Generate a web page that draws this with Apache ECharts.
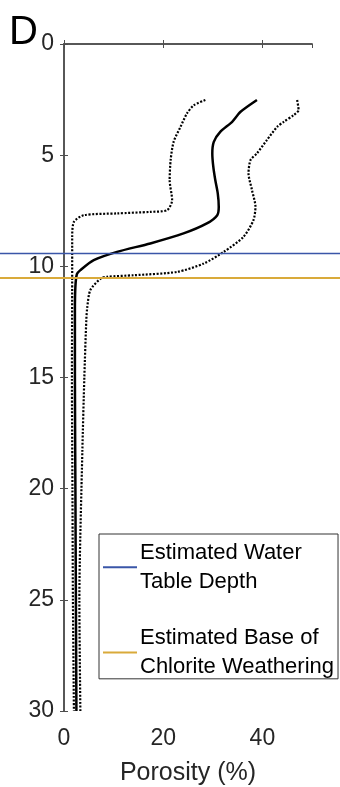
<!doctype html>
<html>
<head>
    <title>Porosity profile D</title>
    <script src="https://cdn.jsdelivr.net/npm/echarts@6/dist/echarts.min.js"></script>
</head>
<style>
    html, body { margin: 0; padding: 0; background: #fff; }
    #EChartParent { width: 340px; height: 787px; }
</style>
<body>
<div id="EChartParent"></div>
<script>
  // mean porosity curve (depth m, porosity %)
  var meanDepth = [2.52, 3.05, 3.5, 3.95, 4.4, 4.92, 5.52, 6.12, 6.72, 7.32, 7.7, 8.07, 8.52, 8.97, 9.35, 9.72, 10.17, 10.35, 10.9, 12, 15, 20, 25, 30];
  var meanPor   = [38.9, 35.6, 33.9, 31.5, 30.2, 29.9, 30.1, 30.5, 31.0, 31.2, 30.9, 28.8, 24.1, 17.4, 10.7, 6.0, 3.3, 2.6, 2.3, 2.2, 2.2, 2.3, 2.4, 2.5];
  // lower bound (dotted, left)
  var lowDepth = [2.52, 2.75, 3.12, 3.72, 4.4, 5.22, 6.12, 7.02, 7.47, 7.55, 7.62, 7.7, 8.0, 8.67, 10.5, 15, 20, 25, 30];
  var lowPor   = [28.5, 26.2, 24.8, 23.5, 22.1, 21.5, 21.3, 21.8, 20.8, 17.4, 10.7, 4.0, 2.0, 1.65, 1.65, 1.6, 1.7, 1.8, 2.0];
  // upper bound (dotted, right)
  var highDepth = [2.52, 2.97, 3.2, 3.5, 3.72, 4.32, 4.92, 5.22, 5.82, 6.57, 7.32, 7.92, 8.67, 9.35, 9.87, 10.25, 10.4, 10.47, 10.55, 11.07, 11.82, 12.4, 15, 18.3, 25, 30];
  var highPor   = [47.0, 47.3, 46.3, 44.3, 43.0, 40.9, 38.9, 37.6, 37.2, 37.9, 38.6, 38.2, 36.2, 32.2, 28.2, 22.8, 14.1, 8.7, 7.4, 5.3, 4.7, 4.5, 4.1, 3.7, 3.1, 3.3];

  var waterTable = 9.42;
  var chloriteBase = 10.52;
  var depthTicks = [0, 30, 5];   // min, max, interval
  var porTicks = [0, 50, 20];

  function pairs(xs, ys) {
    return ys.map(function (d, i) { return [xs[i], d]; });
  }

  var chart = echarts.init(document.getElementById('EChartParent'));
  var axisCol = '#4d4d4d';
  var txtCol = '#262626';
  var font = 'Liberation Sans, Arial, sans-serif';

  var option = {
    animation: false,
    textStyle: { fontFamily: font },
    title: {
      text: 'D', left: 9, top: -1, padding: 0,
      textStyle: { fontSize: 40, fontWeight: 'normal', color: '#000', fontFamily: font }
    },
    grid: [
      { left: 64, right: 28, top: 44, bottom: 76, outerBoundsMode: 'none', containLabel: false },
      { left: 0, right: 0, top: 44, bottom: 76, outerBoundsMode: 'none', containLabel: false }
    ],
    legend: {
      data: ['Estimated Water\nTable Depth', 'Estimated Base of\nChlorite Weathering'],
      orient: 'vertical', left: 99, top: 534,
      icon: 'rect', itemWidth: 34, itemHeight: 2, itemGap: 19,
      padding: [0, 4, -7, 4],
      backgroundColor: '#fff', borderColor: '#333', borderWidth: 1,
      textStyle: { fontSize: 22, lineHeight: 28.5, color: '#000', padding: [0, 0, 0, -2] }
    },
    xAxis: [
      {
        gridIndex: 0, type: 'value', min: porTicks[0], max: porTicks[1], interval: porTicks[2],
        name: 'Porosity (%)', nameLocation: 'middle', nameGap: 41, nameMoveOverlap: false,
        nameTextStyle: { fontSize: 25, color: txtCol },
        axisLine: { lineStyle: { color: axisCol, width: 1.5 } },
        axisTick: { inside: true, length: 4, lineStyle: { color: axisCol } },
        axisLabel: { fontSize: 23, color: txtCol, margin: 8, showMaxLabel: false },
        splitLine: { show: false }
      },
      {
        gridIndex: 0, type: 'value', position: 'top', min: porTicks[0], max: porTicks[1], interval: porTicks[2],
        axisLine: { lineStyle: { color: axisCol, width: 1.5 } },
        axisTick: { inside: true, length: 4, lineStyle: { color: axisCol } },
        axisLabel: { show: false }, splitLine: { show: false }
      },
      { gridIndex: 1, type: 'value', min: 0, max: 1, show: false }
    ],
    yAxis: [
      {
        gridIndex: 0, type: 'value', inverse: true, min: depthTicks[0], max: depthTicks[1], interval: depthTicks[2],
        axisLine: { lineStyle: { color: axisCol, width: 1.5 } },
        axisTick: { show: true, inside: true, length: 4, lineStyle: { color: axisCol } },
        axisLabel: { fontSize: 23, color: txtCol, margin: 10 },
        splitLine: { show: false }
      },
      {
        gridIndex: 0, type: 'value', position: 'right', inverse: true, min: depthTicks[0], max: depthTicks[1], interval: depthTicks[2],
        axisLine: { show: true, lineStyle: { color: axisCol, width: 1.5 } },
        axisTick: { show: true, inside: true, length: 4, lineStyle: { color: axisCol } },
        axisLabel: { show: false }, splitLine: { show: false }
      },
      { gridIndex: 1, type: 'value', inverse: true, min: depthTicks[0], max: depthTicks[1], show: false }
    ],
    series: [
      {
        name: 'lower', type: 'line', xAxisIndex: 0, yAxisIndex: 0,
        data: pairs(lowPor, lowDepth), showSymbol: false, smooth: 0.25,
        lineStyle: { color: '#000', width: 2.2, type: [2, 1.6] }
      },
      {
        name: 'upper', type: 'line', xAxisIndex: 0, yAxisIndex: 0,
        data: pairs(highPor, highDepth), showSymbol: false, smooth: 0.25,
        lineStyle: { color: '#000', width: 2.2, type: [2, 1.6] }
      },
      {
        name: 'mean', type: 'line', xAxisIndex: 0, yAxisIndex: 0,
        data: pairs(meanPor, meanDepth), showSymbol: false, smooth: 0.25,
        lineStyle: { color: '#000', width: 2.5 }
      },
      {
        name: 'Estimated Water\nTable Depth', type: 'line', xAxisIndex: 2, yAxisIndex: 2,
        data: [[0, waterTable], [1, waterTable]], showSymbol: false, z: 5,
        itemStyle: { color: '#3a56a8' }, lineStyle: { color: '#3a56a8', width: 1.5 }
      },
      {
        name: 'Estimated Base of\nChlorite Weathering', type: 'line', xAxisIndex: 2, yAxisIndex: 2,
        data: [[0, chloriteBase], [1, chloriteBase]], showSymbol: false, z: 5,
        itemStyle: { color: '#d9aa3a' }, lineStyle: { color: '#d9aa3a', width: 2 }
      }
    ]
  };

  chart.setOption(option);
</script>
</body>
</html>
